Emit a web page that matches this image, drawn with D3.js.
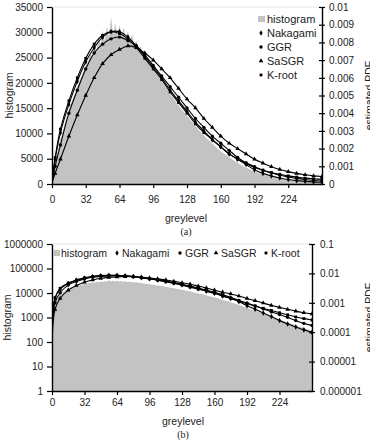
<!DOCTYPE html>
<html>
<head>
<meta charset="utf-8">
<script src="https://cdn.jsdelivr.net/npm/d3@7"></script>
<style>
  body { margin: 0; background: #fff; }
  svg { font-family: "Liberation Sans", Arial, sans-serif; }
</style>
</head>
<body>
<svg id="chart" width="370" height="443"></svg>
<script>
// histogram counts, one value every 2 grey levels (0, 2, ... 256)
var histStep = 2;
var histogram = [
  500, 2600, 5100, 7100, 8900, 10400, 11900, 13300, 14600, 15800,
  17000, 18100, 19300, 20200, 21300, 22300, 23600, 23900, 25600, 25300,
  27200, 26400, 28500, 27700, 30400, 28300, 31200, 29100, 33000, 29400,
  31800, 29300, 31500, 29600, 30900, 28800, 30200, 28300, 29600, 27500,
  28400, 26600, 27300, 25600, 25800, 24500, 24000, 23300, 22700, 22100,
  21500, 20900, 20300, 19700, 19100, 18500, 17900, 17300, 16700, 16100,
  15500, 15000, 14500, 14000, 13500, 13000, 12500, 12000, 11500, 11000,
  10500, 10000, 9600, 9200, 8800, 8400, 8000, 7600, 7200, 6800,
  6500, 6200, 5900, 5600, 5300, 5000, 4700, 4450, 4200, 3950,
  3700, 3480, 3260, 3050, 2850, 2650, 2480, 2320, 2170, 2030,
  1900, 1780, 1660, 1550, 1450, 1350, 1260, 1170, 1090, 1010,
  940, 880, 820, 770, 720, 675, 630, 590, 550, 515,
  480, 450, 420, 395, 370, 345, 325, 305, 285
];

// estimated PDFs
var levels = [0, 3, 8, 16, 24, 32, 40, 48, 56, 64, 72, 80, 88, 96, 104, 112, 120,
  128, 136, 144, 152, 160, 168, 176, 184, 192, 200, 208, 216, 224, 232, 240, 248, 256];
var nakagami = [0.0001, 0.0014, 0.0029, 0.0045, 0.0058, 0.0069, 0.0077, 0.0083, 0.0086, 0.0086,
  0.0083, 0.0078, 0.0072, 0.0066, 0.0060, 0.0053, 0.0047, 0.0041, 0.0035, 0.0030, 0.0025,
  0.0021, 0.0017, 0.0014, 0.0011, 0.0008, 0.0006, 0.00045, 0.00034, 0.00025, 0.00019,
  0.00015, 0.00012, 0.0001];
var ggr = [0.00008, 0.0010, 0.0022, 0.0040, 0.0053, 0.0065, 0.0074, 0.0079, 0.0082, 0.0083,
  0.0081, 0.0078, 0.0073, 0.0067, 0.0061, 0.0055, 0.0049, 0.0043, 0.0037, 0.0032, 0.0027,
  0.0023, 0.0019, 0.0015, 0.0012, 0.00098, 0.00078, 0.00062, 0.00049, 0.0004, 0.00032,
  0.00025, 0.0002, 0.00017];
var sasgr = [0.00004, 0.0006, 0.0014, 0.0027, 0.0039, 0.0050, 0.0060, 0.0068, 0.0073, 0.0076,
  0.0078, 0.0077, 0.0074, 0.0070, 0.0065, 0.0060, 0.0054, 0.0048, 0.0043, 0.0037, 0.0032,
  0.0027, 0.0023, 0.0020, 0.0017, 0.0014, 0.00118, 0.00098, 0.00082, 0.0007, 0.0006,
  0.00052, 0.00046, 0.00042];
var kroot = [0.00012, 0.0015, 0.0031, 0.0047, 0.0060, 0.0071, 0.0079, 0.0084, 0.0086, 0.0085,
  0.0082, 0.0077, 0.0071, 0.0065, 0.0059, 0.0052, 0.0046, 0.0040, 0.0034, 0.0029, 0.0025,
  0.0021, 0.0017, 0.0014, 0.00115, 0.00093, 0.00078, 0.00065, 0.00055, 0.00046, 0.00039,
  0.00033, 0.00029, 0.00026];

var seriesNames = ["Nakagami", "GGR", "SaSGR", "K-root"];
var seriesData = [nakagami, ggr, sasgr, kroot];
var seriesSymbols = [d3.symbolDiamond, d3.symbolCircle, d3.symbolTriangle, d3.symbolSquare];
var seriesSizes = [9, 9, 9, 8];

var xTicks = [0, 32, 64, 96, 128, 160, 192, 224];
var linLeftTicks = [0, 5000, 10000, 15000, 20000, 25000, 30000, 35000];
var linRightTicks = [0, 0.001, 0.002, 0.003, 0.004, 0.005, 0.006, 0.007, 0.008, 0.009, 0.01];
var logLeftTicks = [1, 10, 100, 1000, 10000, 100000, 1000000];
var logRightTicks = [0.000001, 0.00001, 0.0001, 0.001, 0.01, 0.1];

var svg = d3.select("#chart");

function panel(o) {
  var g = svg.append("g");
  var x = d3.scaleLinear().domain([0, 256]).range([o.left, o.right]);
  var yL = o.yL, yR = o.yR;

  g.append("clipPath").attr("id", o.id)
    .append("rect")
    .attr("x", o.left).attr("y", o.top)
    .attr("width", o.right - o.left).attr("height", o.bottom - o.top);

  // faint plot frame top
  g.append("line")
    .attr("x1", o.left).attr("x2", o.right)
    .attr("y1", o.top).attr("y2", o.top)
    .attr("stroke", "#e4e4e4");

  var plot = g.append("g").attr("clip-path", "url(#" + o.id + ")");

  var area = d3.area()
    .x(function(d, i) { return x(i * histStep); })
    .y0(o.bottom)
    .y1(function(d) { return yL(d); });
  plot.append("path")
    .datum(histogram)
    .attr("d", area)
    .attr("fill", "#c3c3c3");

  var line = d3.line()
    .x(function(d, i) { return x(levels[i]); })
    .y(function(d) { return yR(d); })
    .curve(d3.curveCatmullRom);

  seriesData.forEach(function(s, k) {
    plot.append("path")
      .datum(s)
      .attr("d", line)
      .attr("fill", "none")
      .attr("stroke", "#000")
      .attr("stroke-width", 1.1);
    plot.selectAll(null)
      .data(s.slice(1))
      .enter().append("path")
      .attr("d", d3.symbol().type(seriesSymbols[k]).size(seriesSizes[k]))
      .attr("transform", function(d, i) {
        return "translate(" + x(levels[i + 1]) + "," + yR(d) + ")";
      })
      .attr("fill", "#000");
  });

  // axes
  var fmtL = d3.format("d");
  var ax = g.append("g")
    .attr("transform", "translate(0," + o.bottom + ")")
    .call(d3.axisBottom(x).tickValues(xTicks).tickSize(4).tickSizeOuter(0).tickPadding(o.xPad));
  var al = g.append("g")
    .attr("transform", "translate(" + o.left + ",0)")
    .call(d3.axisLeft(yL).tickValues(o.leftTicks).tickFormat(fmtL).tickSize(5).tickSizeOuter(0).tickPadding(4));
  var ar = g.append("g")
    .attr("transform", "translate(" + o.right + ",0)")
    .call(d3.axisRight(yR).tickValues(o.rightTicks).tickFormat(function(d) { return String(d); })
      .tickSize(3).tickSizeOuter(0).tickPadding(o.rPad));
  ar.selectAll(".tick line").attr("x1", -3);

  [ax, al, ar].forEach(function(a) {
    a.select(".domain").attr("stroke", "#000").attr("stroke-width", 1.4);
    a.selectAll(".tick line").attr("stroke", "#000").attr("stroke-width", 1.2);
    a.selectAll("text").attr("font-size", "10px").attr("fill", "#222")
      .attr("font-family", "Liberation Sans, Arial, sans-serif");
  });

  // titles
  g.append("text")
    .attr("transform", "translate(" + o.yTitleX + "," + ((o.top + o.bottom) / 2) + ") rotate(-90)")
    .attr("text-anchor", "middle").attr("font-size", "10.5px").attr("fill", "#222")
    .text("histogram");
  g.append("text")
    .attr("transform", "translate(373," + ((o.top + o.bottom) / 2) + ") rotate(-90)")
    .attr("text-anchor", "middle").attr("font-size", "10.5px").attr("fill", "#222")
    .text("estimated PDF");
  g.append("text")
    .attr("x", o.titleX).attr("y", o.titleY)
    .attr("text-anchor", "middle").attr("font-size", "10.5px").attr("fill", "#222")
    .text("greylevel");
  g.append("text")
    .attr("x", o.titleX).attr("y", o.titleY + 13)
    .attr("text-anchor", "middle").attr("font-size", "10px").attr("fill", "#222")
    .attr("font-family", "Liberation Serif, Times New Roman, serif")
    .text(o.caption);

  // legend
  var names = ["histogram"].concat(seriesNames);
  var leg = g.append("g").attr("font-size", o.legendFont).attr("fill", "#222");
  names.forEach(function(n, i) {
    var p = o.legendPos[i];
    if (i === 0) {
      leg.append("rect").attr("x", p[0] - 3).attr("y", p[1] - 3)
        .attr("width", 7).attr("height", 6).attr("fill", "#c3c3c3");
    } else {
      leg.append("path")
        .attr("d", d3.symbol().type(seriesSymbols[i - 1]).size(seriesSizes[i - 1]))
        .attr("transform", "translate(" + p[0] + "," + p[1] + ")")
        .attr("fill", "#000");
    }
    leg.append("text").attr("x", p[0] + o.legendGap).attr("y", p[1] + 4).text(n);
  });
}

panel({
  id: "clipA", top: 7, bottom: 184, left: 52, right: 322,
  yL: d3.scaleLinear().domain([0, 35000]).range([184, 7]),
  yR: d3.scaleLinear().domain([0, 0.01]).range([184, 7]),
  leftTicks: linLeftTicks, rightTicks: linRightTicks,
  xPad: 8, rPad: 4, yTitleX: 13,
  titleX: 186, titleY: 222, caption: "(a)",
  legendFont: "11px", legendGap: 6,
  legendPos: [[261, 19], [261, 33], [261, 47], [261, 61], [261, 75]]
});

panel({
  id: "clipB", top: 244, bottom: 391, left: 52, right: 312,
  yL: d3.scaleLog().domain([1, 1000000]).range([391, 244]),
  yR: d3.scaleLog().domain([0.000001, 0.1]).range([391, 244]),
  leftTicks: logLeftTicks, rightTicks: logRightTicks,
  xPad: 4, rPad: 5, yTitleX: 11,
  titleX: 183, titleY: 425, caption: "(b)",
  legendFont: "10.5px", legendGap: 5,
  legendPos: [[56, 253], [117, 253], [180, 253], [216, 253], [266, 253]]
});
</script>
</body>
</html>
